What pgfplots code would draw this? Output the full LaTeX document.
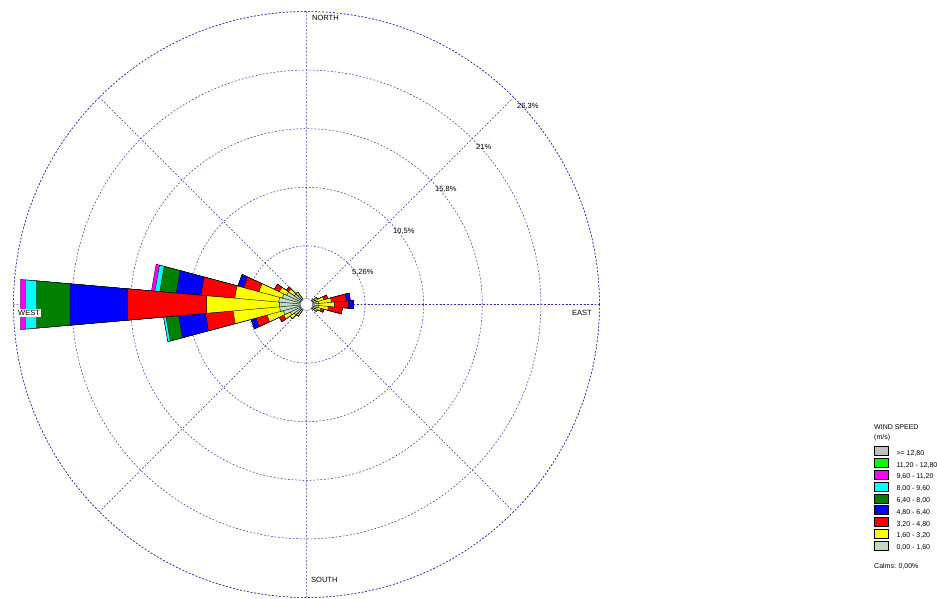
\documentclass[border=0pt]{standalone}
\usepackage{pgfplots}
\pgfplotsset{compat=1.18}
\usepgfplotslibrary{polar}
\usepackage{pgfplotstable}
\usepackage{fontspec}
\setmainfont{Liberation Sans}

\definecolor{cLG}{RGB}{192,220,192}
\definecolor{cY}{RGB}{255,255,0}
\definecolor{cR}{RGB}{255,0,0}
\definecolor{cB}{RGB}{0,0,255}
\definecolor{cG}{RGB}{0,128,0}
\definecolor{cC}{RGB}{0,255,255}
\definecolor{cM}{RGB}{255,0,255}
\definecolor{cL}{RGB}{0,255,0}
\definecolor{cGr}{RGB}{192,192,192}
\definecolor{gridc}{RGB}{45,45,165}

% cumulative frequency (%) per speed class; each 10 deg sector is
% centre -> left edge -> right edge -> centre (angle a: 0 = east, ccw)
\pgfplotstableread{
a    lg    y     r     b     g     c     m
-35  0     0     0     0     0     0     0
-35  0.81  1.08  1.08  1.08  1.08  1.08  1.08
-25  0.81  1.08  1.08  1.08  1.08  1.08  1.08
-25  0     0     0     0     0     0     0
-25  0.90  1.35  1.62  1.62  1.62  1.62  1.62
-15  0.90  1.35  1.62  1.62  1.62  1.62  1.62
-15  0     0     0     0     0     0     0
-15  1.08  1.97  3.23  3.23  3.23  3.23  3.23
-5   1.08  1.97  3.23  3.23  3.23  3.23  3.23
-5   0     0     0     0     0     0     0
-5   1.08  2.51  3.77  4.22  4.22  4.22  4.22
5    1.08  2.51  3.77  4.22  4.22  4.22  4.22
5    0     0     0     0     0     0     0
5    1.08  2.24  3.59  3.95  3.95  3.95  3.95
15   1.08  2.24  3.59  3.95  3.95  3.95  3.95
15   0     0     0     0     0     0     0
15   0.90  1.62  1.97  1.97  1.97  1.97  1.97
25   0.90  1.62  1.97  1.97  1.97  1.97  1.97
25   0     0     0     0     0     0     0
25   0.81  1.08  1.08  1.08  1.08  1.08  1.08
35   0.81  1.08  1.08  1.08  1.08  1.08  1.08
35   0     0     0     0     0     0     0
125  0     0     0     0     0     0     0
125  1.08  1.35  1.35  1.35  1.35  1.35  1.35
135  1.08  1.35  1.35  1.35  1.35  1.35  1.35
135  0     0     0     0     0     0     0
135  1.35  1.97  2.20  2.20  2.20  2.20  2.20
145  1.35  1.97  2.20  2.20  2.20  2.20  2.20
145  0     0     0     0     0     0     0
145  1.97  2.69  3.18  3.18  3.18  3.18  3.18
155  1.97  2.69  3.18  3.18  3.18  3.18  3.18
155  0     0     0     0     0     0     0
155  2.24  4.42  5.84  6.37  6.37  6.37  6.37
165  2.24  4.42  5.84  6.37  6.37  6.37  6.37
165  0     0     0     0     0     0     0
165  2.51  6.46  9.51  11.73 13.22 13.66 13.97
175  2.51  6.46  9.51  11.73 13.22 13.66 13.97
175  0     0     0     0     0     0     0
175  2.42  9.00  16.12 21.30 24.35 25.34 25.79
185  2.42  9.00  16.12 21.30 24.35 25.34 25.79
185  0     0     0     0     0     0     0
185  2.42  6.62  9.10  11.52 12.66 12.88 12.88
195  2.42  6.62  9.10  11.52 12.66 12.88 12.88
195  0     0     0     0     0     0     0
195  2.15  3.66  4.69  5.15  5.15  5.15  5.15
205  2.15  3.66  4.69  5.15  5.15  5.15  5.15
205  0     0     0     0     0     0     0
205  1.62  2.26  2.69  2.69  2.69  2.69  2.69
215  1.62  2.26  2.69  2.69  2.69  2.69  2.69
215  0     0     0     0     0     0     0
215  1.35  1.80  1.80  1.80  1.80  1.80  1.80
225  1.35  1.80  1.80  1.80  1.80  1.80  1.80
225  0     0     0     0     0     0     0
225  1.08  1.26  1.26  1.26  1.26  1.26  1.26
235  1.08  1.26  1.26  1.26  1.26  1.26  1.26
235  0     0     0     0     0     0     0
}\rose

\begin{document}
\begin{tikzpicture}[x=1pt,y=1pt,font=\fontsize{7.5}{9}\selectfont]
\path[use as bounding box] (0,0) rectangle (937,599);
\begin{polaraxis}[
    at={(306.5pt,294.5pt)}, anchor=center,
    scale only axis, width=586pt, height=586pt,
    xmin=0, xmax=360, ymin=0, ymax=26.3,
    xtick={0,45,...,315},
    ytick={5.26,10.52,15.78,21.04,26.3},
    xticklabels={}, yticklabels={},
    major tick length=0pt,
    grid=major,
    major grid style={draw=gridc, dash pattern=on 1.8pt off 1.8pt, line width=0.5pt},
    axis line style={draw=gridc, dash pattern=on 1.8pt off 1.8pt, line width=0.5pt},
    legend style={at={(1.4688,0.2577)}, anchor=north west, draw=none, fill=none,
        inner sep=0pt, outer sep=0pt, row sep=1.4pt,
        font=\fontsize{7}{8}\selectfont,
        nodes={inner sep=0pt, anchor=west}},
    legend cell align=left,
    /tikz/every odd column/.append style={column sep=8pt},
    legend image code/.code={\draw[#1, draw=black, line width=0.4pt] (0pt,-2pt) rectangle (14pt,7pt);},
]
\addlegendimage{fill=cGr}\addlegendentry{>= 12,80}
\addlegendimage{fill=cL}\addlegendentry{11,20 - 12,80}
\addlegendimage{fill=cM}\addlegendentry{9,60 - 11,20}
\addlegendimage{fill=cC}\addlegendentry{8,00 - 9,60}
\addlegendimage{fill=cG}\addlegendentry{6,40 - 8,00}
\addlegendimage{fill=cB}\addlegendentry{4,80 - 6,40}
\addlegendimage{fill=cR}\addlegendentry{3,20 - 4,80}
\addlegendimage{fill=cY}\addlegendentry{1,60 - 3,20}
\addlegendimage{fill=cLG}\addlegendentry{0,00 - 1,60}

\addplot[forget plot, fill=cM, draw=black, line width=0.4pt] table[x=a, y=m] {\rose};
\addplot[forget plot, fill=cC, draw=black, line width=0.4pt] table[x=a, y=c] {\rose};
\addplot[forget plot, fill=cG, draw=black, line width=0.4pt] table[x=a, y=g] {\rose};
\addplot[forget plot, fill=cB, draw=black, line width=0.4pt] table[x=a, y=b] {\rose};
\addplot[forget plot, fill=cR, draw=black, line width=0.4pt] table[x=a, y=r] {\rose};
\addplot[forget plot, fill=cY, draw=black, line width=0.4pt] table[x=a, y=y] {\rose};
\addplot[forget plot, fill=cLG, draw=black, line width=0.4pt] table[x=a, y=lg] {\rose};
\fill[white, draw=gray, line width=0.4pt] (axis cs:0,0) circle[radius=6pt];
\end{polaraxis}

\node[anchor=west, inner sep=0pt] at (312,581) {NORTH};
\node[anchor=west, inner sep=0pt] at (572,286) {EAST};
\node[anchor=west, inner sep=0pt] at (311,19) {SOUTH};
\node[anchor=west, inner sep=1pt, fill=white] at (17,286) {WEST};

\node[anchor=west, inner sep=0pt] at (352,327) {5,26\%};
\node[anchor=west, inner sep=0pt] at (393,368) {10,5\%};
\node[anchor=west, inner sep=0pt] at (435,410) {15,8\%};
\node[anchor=west, inner sep=0pt] at (476,452) {21\%};
\node[anchor=west, inner sep=0pt] at (517,493) {26,3\%};

\node[anchor=west, inner sep=0pt, font=\fontsize{7}{8}\selectfont] at (874,172) {WIND SPEED};
\node[anchor=west, inner sep=0pt, font=\fontsize{7}{8}\selectfont] at (874,161) {(m/s)};
\node[anchor=west, inner sep=0pt, font=\fontsize{7}{8}\selectfont] at (874,33) {Calms: 0,00\%};
\end{tikzpicture}
\end{document}
